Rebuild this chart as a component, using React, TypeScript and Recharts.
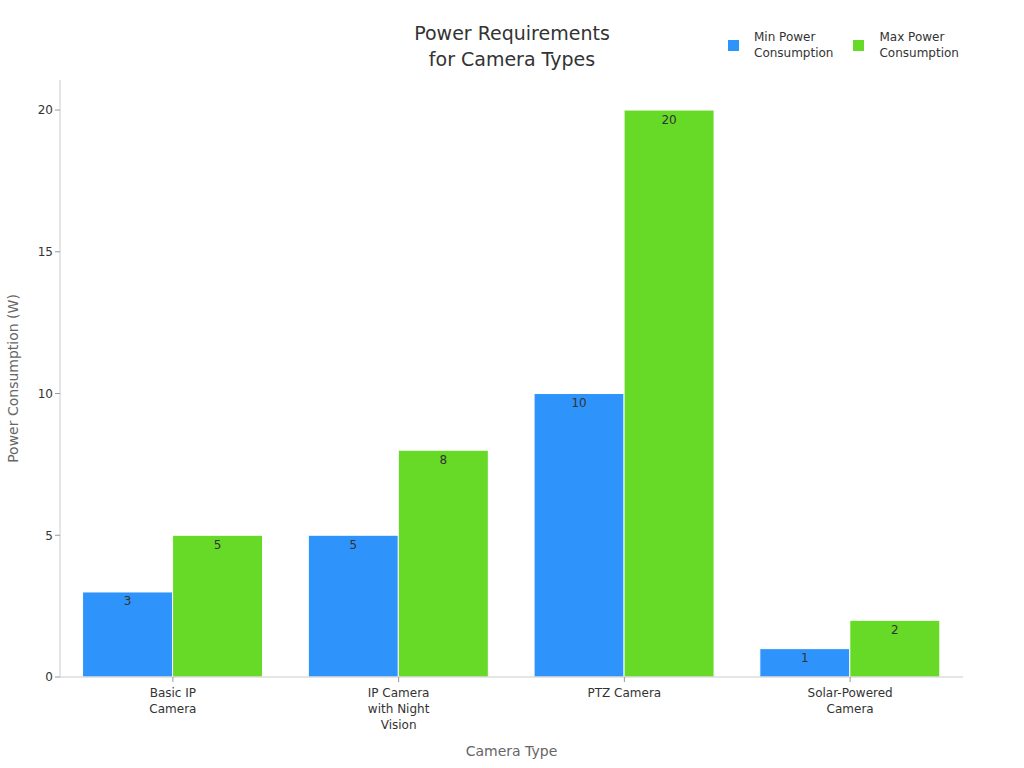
import React from "react";
import { BarChart, Bar, XAxis, YAxis, LabelList, Label } from "recharts";

const categories = ["Basic IP Camera", "IP Camera with Night Vision", "PTZ Camera", "Solar-Powered Camera"];
const minPower = [3, 5, 10, 1];
const maxPower = [5, 8, 20, 2];
const yTicks = [0, 5, 10, 15, 20];
const seriesNames = ["Min Power\nConsumption", "Max Power\nConsumption"];
const seriesColors = ["#2E93FA", "#66DA26"];

const FONT = "'DejaVu Sans', sans-serif";

const data = categories.map((name, i) => ({
  name,
  min: minPower[i],
  max: maxPower[i],
}));

// break a label into lines of at most 13 characters
const wrap = (text: string, maxLen = 13) => {
  const lines: string[] = [];
  let cur = "";
  text.split(" ").forEach((w) => {
    if (!cur) cur = w;
    else if ((cur + " " + w).length <= maxLen) cur += " " + w;
    else {
      lines.push(cur);
      cur = w;
    }
  });
  if (cur) lines.push(cur);
  return lines;
};

const CategoryTick = (props: any) => {
  const { x, y, payload } = props;
  const lines = wrap(payload.value);
  return (
    <text x={x} y={y + 2} textAnchor="middle" fill="#333" fontSize={12} fontFamily={FONT}>
      {lines.map((l, i) => (
        <tspan key={i} x={x} dy={i === 0 ? "0.95em" : 16}>
          {l}
        </tspan>
      ))}
    </text>
  );
};

export default function App() {
  return (
    <div style={{ position: "absolute", left: 0, top: 0, width: 1024, height: 768, background: "#fff" }}>
      <div
        style={{
          position: "absolute",
          top: 20,
          left: 0,
          width: 1024,
          textAlign: "center",
          fontFamily: FONT,
          fontSize: 19,
          lineHeight: "26px",
          color: "#333",
        }}
      >
        Power Requirements
        <br />
        for Camera Types
      </div>
      <div
        style={{
          position: "absolute",
          top: 29,
          left: 728,
          display: "flex",
          fontFamily: FONT,
          fontSize: 12,
          color: "#333",
          zIndex: 1,
        }}
      >
        {seriesNames.map((n, i) => (
          <div key={n} style={{ display: "flex", alignItems: "center", marginRight: 20 }}>
            <div style={{ width: 11, height: 11, background: seriesColors[i], marginRight: 15 }} />
            <div style={{ lineHeight: "16px" }}>
              {n.split("\n").map((s) => (
                <div key={s}>{s}</div>
              ))}
            </div>
          </div>
        ))}
      </div>
      <BarChart
        width={1024}
        height={768}
        data={data}
        margin={{ top: 80, right: 61, left: 0, bottom: 0 }}
        barCategoryGap="10%"
        barGap={0}
      >
        <XAxis
          dataKey="name"
          height={91}
          tick={<CategoryTick />}
          tickLine={{ stroke: "#999" }}
          tickSize={5}
          axisLine={{ stroke: "#ccc" }}
          interval={0}
        >
          <Label
            value="Camera Type"
            position="insideBottom"
            offset={12}
            style={{ fontFamily: FONT, fontSize: 14, fill: "#666" }}
          />
        </XAxis>
        <YAxis
          width={60}
          domain={[0, 21.06]}
          ticks={yTicks}
          tick={{ fill: "#333", fontSize: 12, fontFamily: FONT }}
          tickLine={{ stroke: "#999" }}
          tickSize={5}
          axisLine={{ stroke: "#ccc" }}
        >
          <Label
            content={(p: any) => {
              const vb = p.viewBox;
              const cy = vb.y + vb.height / 2;
              return (
                <text
                  x={13}
                  y={cy}
                  transform={`rotate(-90, 13, ${cy})`}
                  textAnchor="middle"
                  dominantBaseline="central"
                  fill="#666"
                  fontSize={14}
                  fontFamily={FONT}
                >
                  Power Consumption (W)
                </text>
              );
            }}
          />
        </YAxis>
        <Bar
          dataKey="min"
          name={seriesNames[0]}
          fill={seriesColors[0]}
          stroke="#fff"
          strokeWidth={1}
          isAnimationActive={false}
        >
          <LabelList dataKey="min" position="insideTop" offset={5} fill="#333" fontSize={12} fontFamily={FONT} />
        </Bar>
        <Bar
          dataKey="max"
          name={seriesNames[1]}
          fill={seriesColors[1]}
          stroke="#fff"
          strokeWidth={1}
          isAnimationActive={false}
        >
          <LabelList dataKey="max" position="insideTop" offset={5} fill="#333" fontSize={12} fontFamily={FONT} />
        </Bar>
      </BarChart>
    </div>
  );
}
